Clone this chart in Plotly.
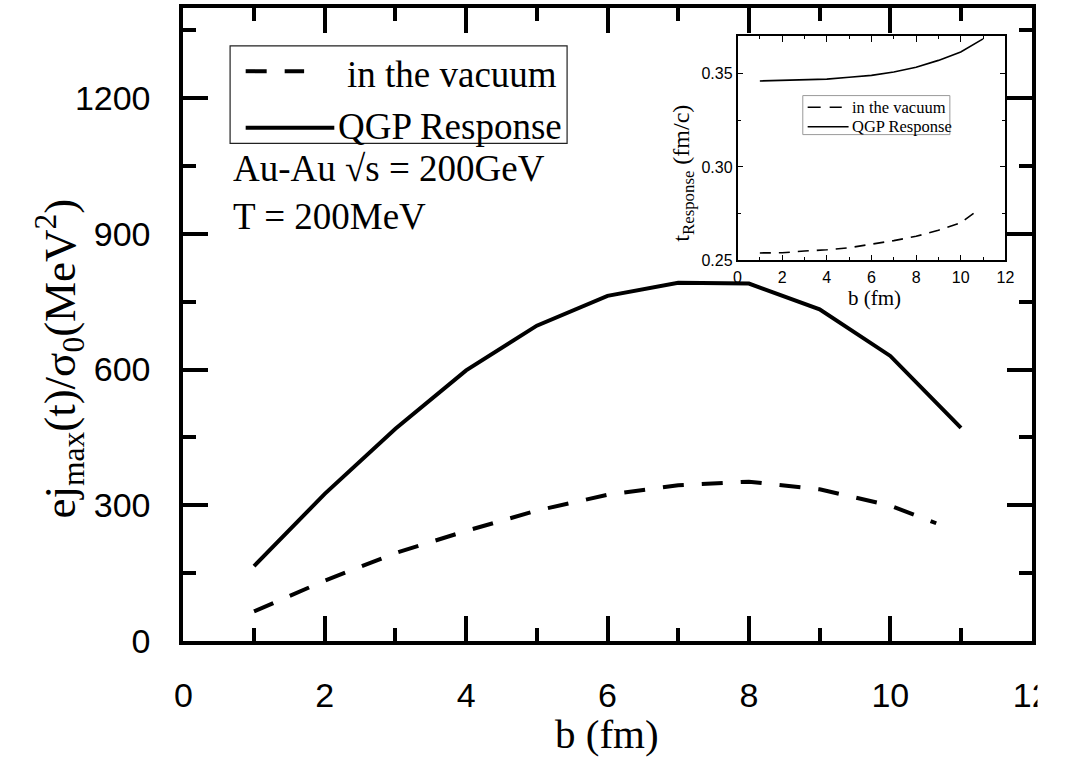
import plotly.graph_objects as go

# ---------------- data ----------------
b_main = [1, 2, 3, 4, 5, 6, 7, 8, 9, 10, 11]
qgp_main = [165, 325, 469, 598, 697, 763, 792, 790, 733, 630, 471]
b_vac_main = [1, 2, 3, 4, 5, 6, 7, 8, 9, 10, 10.65]
vac_main = [65, 133, 194, 243, 288, 323, 344, 352, 335, 299, 260]

b_inset = [1, 2, 3, 4, 5, 6, 7, 8, 9, 10, 11]
qgp_inset = [0.346, 0.3462, 0.3466, 0.347, 0.348, 0.349, 0.3508, 0.3533, 0.357, 0.3615, 0.3685]
b_vac_inset = [1, 2, 3, 4, 5, 6, 7, 8, 9, 10, 10.78]
vac_inset = [0.254, 0.2541, 0.255, 0.2557, 0.2568, 0.2585, 0.2606, 0.2629, 0.2661, 0.2701, 0.277]

legend_labels = ["in the vacuum", "QGP Response"]
main_xlabel = "b (fm)"
main_ylabel = "ej<sub>max</sub>(t)/σ<sub>0</sub>(MeV<sup>2</sup>)"
inset_xlabel = "b (fm)"
inset_ylabel = "t<sub>Response</sub> (fm/c)"
note1 = "Au-Au √s = 200GeV"
note2 = "T = 200MeV"

W, H = 1076, 771
def px(x):
    return x / W
def py(y):
    return 1 - y / H

SERIF = "Liberation Serif, Times New Roman, serif"
SANS = "Liberation Sans, Arial, sans-serif"

fig = go.Figure()
fig.add_trace(go.Scatter(x=b_main, y=qgp_main, mode="lines", name=legend_labels[1],
                         line=dict(color="black", width=4), xaxis="x", yaxis="y", showlegend=False))
fig.add_trace(go.Scatter(x=b_vac_main, y=vac_main, mode="lines", name=legend_labels[0],
                         line=dict(color="black", width=4, dash="21px,18px"), xaxis="x", yaxis="y", showlegend=False))
fig.add_trace(go.Scatter(x=b_inset, y=qgp_inset, mode="lines", name=legend_labels[1],
                         line=dict(color="black", width=1.6), xaxis="x2", yaxis="y2", showlegend=False))
fig.add_trace(go.Scatter(x=b_vac_inset, y=vac_inset, mode="lines", name=legend_labels[0],
                         line=dict(color="black", width=1.6, dash="11px,8px"), xaxis="x2", yaxis="y2", showlegend=False))

main_ax = dict(showgrid=False, zeroline=False, showline=True, linecolor="black", linewidth=4,
               mirror="ticks", ticks="inside", ticklen=25, tickwidth=3.5, tickcolor="black",
               tickfont=dict(family=SANS, size=34, color="black"))
inset_ax = dict(showgrid=False, zeroline=False, showline=True, linecolor="black", linewidth=1.5,
                mirror="ticks", ticks="inside", ticklen=6, tickwidth=1.3, tickcolor="black",
                tickfont=dict(family=SANS, size=16, color="black"))

fig.update_layout(
    width=W, height=H, autosize=False,
    margin=dict(l=0, r=0, t=0, b=0),
    paper_bgcolor="white", plot_bgcolor="rgba(0,0,0,0)",
    xaxis=dict(main_ax, domain=[px(179), px(1050)], range=[0, 12], tickmode="linear", tick0=0, dtick=2,
               anchor="y", ticklabelstandoff=21,
               minor=dict(tick0=0, dtick=1, ticks="inside", ticklen=13, tickwidth=3.5, tickcolor="black")),
    yaxis=dict(main_ax, domain=[py(657), py(8)], range=[0, 1400], tickmode="linear", tick0=0, dtick=300,
               anchor="x", ticklabelstandoff=22,
               minor=dict(tick0=0, dtick=150, ticks="inside", ticklen=13, tickwidth=3.5, tickcolor="black")),
    xaxis2=dict(inset_ax, domain=[px(748), px(1023)], range=[0, 12], tickmode="linear", tick0=0, dtick=2,
                anchor="y2", ticklabelstandoff=2,
                minor=dict(tick0=0, dtick=1, ticks="inside", ticklen=3.5, tickwidth=1.3, tickcolor="black")),
    yaxis2=dict(inset_ax, domain=[py(267), py(37)], range=[0.25, 0.37], tickmode="linear", tick0=0.25, dtick=0.05,
                tickformat=".2f", anchor="x2", ticklabelstandoff=0,
                minor=dict(tick0=0.25, dtick=0.025, ticks="inside", ticklen=3.5, tickwidth=1.3, tickcolor="black")),
)

shapes = [
    # main legend
    dict(type="rect", xref="paper", yref="paper", x0=px(227), x1=px(573), y0=py(147), y1=py(47),
         line=dict(color="#222", width=1.2), fillcolor="rgba(0,0,0,0)"),
    dict(type="line", xref="paper", yref="paper", x0=px(243), x1=px(303), y0=py(73), y1=py(73),
         line=dict(color="black", width=4, dash="21px,18px")),
    dict(type="line", xref="paper", yref="paper", x0=px(243), x1=px(334), y0=py(131), y1=py(131),
         line=dict(color="black", width=4)),
    # inset legend
    dict(type="rect", xref="paper", yref="paper", x0=px(815), x1=px(966), y0=py(138), y1=py(98),
         line=dict(color="#9a9a9a", width=1), fillcolor="rgba(0,0,0,0)"),
    dict(type="line", xref="paper", yref="paper", x0=px(820), x1=px(855), y0=py(110), y1=py(110),
         line=dict(color="black", width=1.5, dash="13px,9px")),
    dict(type="line", xref="paper", yref="paper", x0=px(820), x1=px(862), y0=py(130), y1=py(130),
         line=dict(color="black", width=1.5)),
    # crop of the right edge like the reference
    dict(type="rect", xref="paper", yref="paper", x0=px(1056), x1=1, y0=py(735), y1=py(664),
         line=dict(width=0), fillcolor="white", layer="above"),
]

def ann(text, x, y, size, xanchor="left", angle=0, family=SERIF):
    return dict(text=text, x=px(x), y=py(y), xref="paper", yref="paper", showarrow=False,
                xanchor=xanchor, yanchor="middle", textangle=angle,
                font=dict(family=family, size=size, color="black"))

annotations = [
    ann(legend_labels[0], 345, 76, 37),
    ann(legend_labels[1], 336, 130, 37),
    ann(note1, 228, 173, 37),
    ann(note2, 228, 222, 37),
    ann(legend_labels[0], 863, 110, 16.5),
    ann(legend_labels[1], 863, 130, 16.5),
    ann(main_xlabel, 614, 753, 41, xanchor="center"),
    ann(main_ylabel, 52, 368, 45, xanchor="center", angle=-90),
    ann(inset_xlabel, 889, 306, 21, xanchor="center"),
    ann(inset_ylabel, 692, 177, 24, xanchor="center", angle=-90),
]

fig.update_layout(shapes=shapes, annotations=annotations)
fig.write_html("out.html")
